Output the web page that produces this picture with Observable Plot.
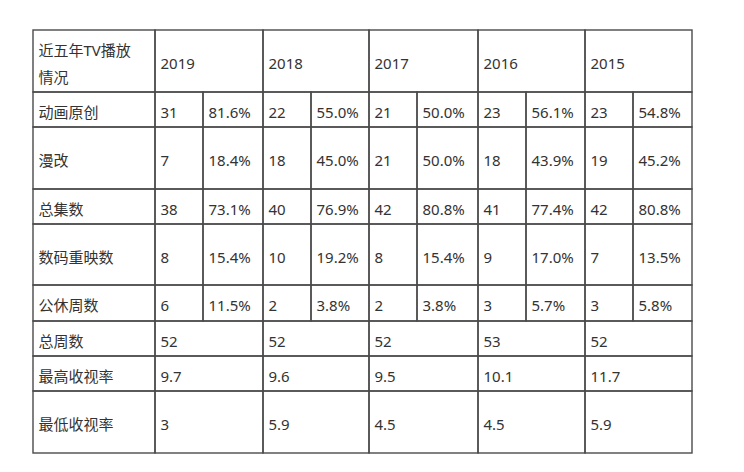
<!DOCTYPE html>
<html>
<head>
<meta charset="utf-8">
<script src="https://cdn.jsdelivr.net/npm/d3@7"></script>
<script src="https://cdn.jsdelivr.net/npm/@observablehq/plot@0.6"></script>
<style>
  html, body { margin: 0; padding: 0; background: #fff; }
  #chart svg {
    display: block;
    background: linear-gradient(to bottom, #f2f2f2 0px, #f2f2f2 1px, #ffffff 1px, #ffffff 466px, #efefef 466px, #efefef 472px);
  }
</style>
</head>
<body>
<div id="chart"></div>
<script>
// ---- data ----
const cornerTitle = "近五年TV播放\n情况";
const years = ["2019", "2018", "2017", "2016", "2015"];
const rowLabels = ["动画原创", "漫改", "总集数", "数码重映数", "公休周数", "总周数", "最高收视率", "最低收视率"];
const originalCount = [31, 22, 21, 23, 23];
const originalShare = ["81.6%", "55.0%", "50.0%", "56.1%", "54.8%"];
const adaptedCount = [7, 18, 21, 18, 19];
const adaptedShare = ["18.4%", "45.0%", "50.0%", "43.9%", "45.2%"];
const totalEpisodes = [38, 40, 42, 41, 42];
const totalEpisodesShare = ["73.1%", "76.9%", "80.8%", "77.4%", "80.8%"];
const digitalReruns = [8, 10, 8, 9, 7];
const digitalRerunsShare = ["15.4%", "19.2%", "15.4%", "17.0%", "13.5%"];
const holidayWeeks = [6, 2, 2, 3, 3];
const holidayWeeksShare = ["11.5%", "3.8%", "3.8%", "5.7%", "5.8%"];
const totalWeeks = [52, 52, 52, 53, 52];
const maxRating = [9.7, 9.6, 9.5, 10.1, 11.7];
const minRating = [3, 5.9, 4.5, 4.5, 5.9];

// ---- layout (table geometry) ----
const colEdges = [33, 155, 203, 263, 311, 369, 417, 478, 526, 585, 633, 692];
const rowEdges = [30, 92, 127, 189, 224, 285, 321, 356, 391, 453];
const pad = 5;

const pairRows = [
  [originalCount, originalShare],
  [adaptedCount, adaptedShare],
  [totalEpisodes, totalEpisodesShare],
  [digitalReruns, digitalRerunsShare],
  [holidayWeeks, holidayWeeksShare]
];
const singleRows = [totalWeeks, maxRating, minRating];

const cells = [];
function addCell(r, c0, c1, text) {
  cells.push({
    x1: colEdges[c0], x2: colEdges[c1],
    y1: rowEdges[r], y2: rowEdges[r + 1],
    text: String(text)
  });
}
// header row
addCell(0, 0, 1, cornerTitle);
years.forEach((y, i) => addCell(0, 1 + 2 * i, 3 + 2 * i, y));
// label column + body
rowLabels.forEach((lab, k) => {
  const r = k + 1;
  addCell(r, 0, 1, lab);
  if (k < pairRows.length) {
    const [counts, shares] = pairRows[k];
    years.forEach((_, i) => {
      addCell(r, 1 + 2 * i, 2 + 2 * i, counts[i]);
      addCell(r, 2 + 2 * i, 3 + 2 * i, shares[i]);
    });
  } else {
    const vals = singleRows[k - pairRows.length];
    years.forEach((_, i) => addCell(r, 1 + 2 * i, 3 + 2 * i, vals[i]));
  }
});

const W = 744, H = 472;
const chart = Plot.plot({
  width: W,
  height: H,
  margin: 0,
  x: {type: "linear", domain: [0, W], range: [0, W], axis: null},
  y: {type: "linear", domain: [0, H], range: [0, H], axis: null},
  style: {background: "transparent"},
  marks: [
    Plot.rect(cells, {
      x1: "x1", x2: "x2", y1: "y1", y2: "y2",
      fill: "none", stroke: "#4a4a4a", strokeWidth: 1.4
    }),
    Plot.text(cells, {
      x: d => d.x1 + pad,
      y: d => (d.y1 + d.y2) / 2 - 1,
      text: "text",
      textAnchor: "start",
      lineAnchor: "middle",
      lineHeight: 1.8,
      fontSize: 15,
      fill: "#333",
      fontFamily: "'Noto Sans', 'Noto Sans CJK SC', sans-serif"
    })
  ]
});
document.getElementById("chart").appendChild(chart);
</script>
</body>
</html>
